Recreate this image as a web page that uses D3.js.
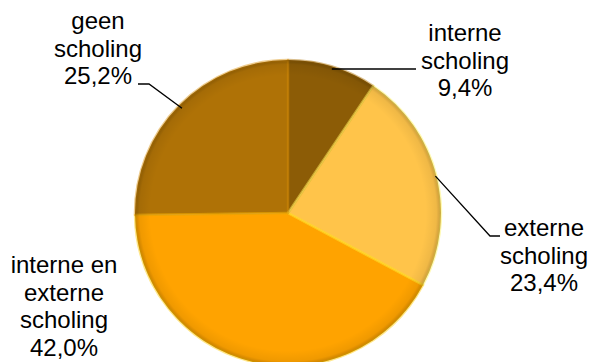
<!DOCTYPE html>
<html>
<head>
<meta charset="utf-8">
<script src="https://cdn.jsdelivr.net/npm/d3@7"></script>
<style>
  html, body { margin: 0; padding: 0; background: #fff; }
  svg { display: block; }
  text { font-family: "Liberation Sans", Arial, sans-serif; font-size: 24px; fill: #000; }
</style>
</head>
<body>
<svg id="chart" width="590" height="362"></svg>
<script>
// Slices in clockwise order from 12 o'clock
const categories = ["interne scholing", "externe scholing", "interne en externe scholing", "geen scholing"];
const values = [9.4, 23.4, 42.0, 25.2];
const valueLabels = ["9,4%", "23,4%", "42,0%", "25,2%"];
const labelLines = [
  ["interne", "scholing"],
  ["externe", "scholing"],
  ["interne en", "externe", "scholing"],
  ["geen", "scholing"]
];
const colors = ["#8C5C06", "#FFC44A", "#FFA300", "#AF7206"];

const svg = d3.select("#chart");
const cx = 288, cy = 213, r = 153;

const defs = svg.append("defs");
// Darkened rim to give the disc a bevelled look
const rim = defs.append("radialGradient").attr("id", "rim")
  .attr("gradientUnits", "userSpaceOnUse")
  .attr("cx", cx).attr("cy", cy).attr("r", r);
rim.append("stop").attr("offset", "0.9").attr("stop-color", "#000").attr("stop-opacity", 0);
rim.append("stop").attr("offset", "0.97").attr("stop-color", "#000").attr("stop-opacity", 0.06);
rim.append("stop").attr("offset", "1").attr("stop-color", "#000").attr("stop-opacity", 0.22);

const pie = d3.pie().sort(null).value(d => d);
const arcs = pie(values);
const arc = d3.arc().innerRadius(0).outerRadius(r);

const g = svg.append("g").attr("transform", `translate(${cx},${cy})`);

g.selectAll("path.slice")
  .data(arcs)
  .join("path")
  .attr("class", "slice")
  .attr("d", arc)
  .attr("fill", (d, i) => colors[i]);

// Soft highlight along slice edges
g.selectAll("path.edge")
  .data(arcs)
  .join("path")
  .attr("class", "edge")
  .attr("d", arc)
  .attr("fill", "none")
  .attr("stroke", (d, i) => d3.color(colors[i]).brighter(0.6))
  .attr("stroke-opacity", 0.45)
  .attr("stroke-width", 2.5)
  .attr("stroke-linejoin", "round");

svg.append("circle")
  .attr("cx", cx).attr("cy", cy).attr("r", r)
  .attr("fill", "url(#rim)");

// Leader lines, anchored at the slice mid-angles
const polar = (ang, rad) => [cx + rad * Math.sin(ang), cy - rad * Math.cos(ang)];
const midAngle = d => (d.startAngle + d.endAngle) / 2;
const line = d3.line();

const a0 = polar(midAngle(arcs[0]), r - 2.5);
const leaders = [
  // interne scholing
  [a0, [416, a0[1]]],
  // externe scholing
  [polar(midAngle(arcs[1]), r - 1), [490, 236], [500, 236]],
  null,
  // geen scholing
  [polar(midAngle(arcs[3]), r - 4), [149, 84], [138, 84]]
];

svg.selectAll("path.leader")
  .data(leaders.filter(l => l))
  .join("path")
  .attr("class", "leader")
  .attr("d", d => line(d))
  .attr("fill", "none")
  .attr("stroke", "#000")
  .attr("stroke-width", 1.3);

// Labels: category name lines followed by the percentage
const labelPos = [
  { x: 465, y: 41 },
  { x: 544, y: 236 },
  { x: 64, y: 273 },
  { x: 98, y: 29 }
];
const lineH = 27.5;

labelPos.forEach((p, i) => {
  const t = svg.append("text").attr("text-anchor", "middle");
  const lines = labelLines[i].concat([valueLabels[i]]);
  lines.forEach((s, k) => {
    t.append("tspan").attr("x", p.x).attr("y", p.y + k * lineH).text(s);
  });
});
</script>
</body>
</html>
